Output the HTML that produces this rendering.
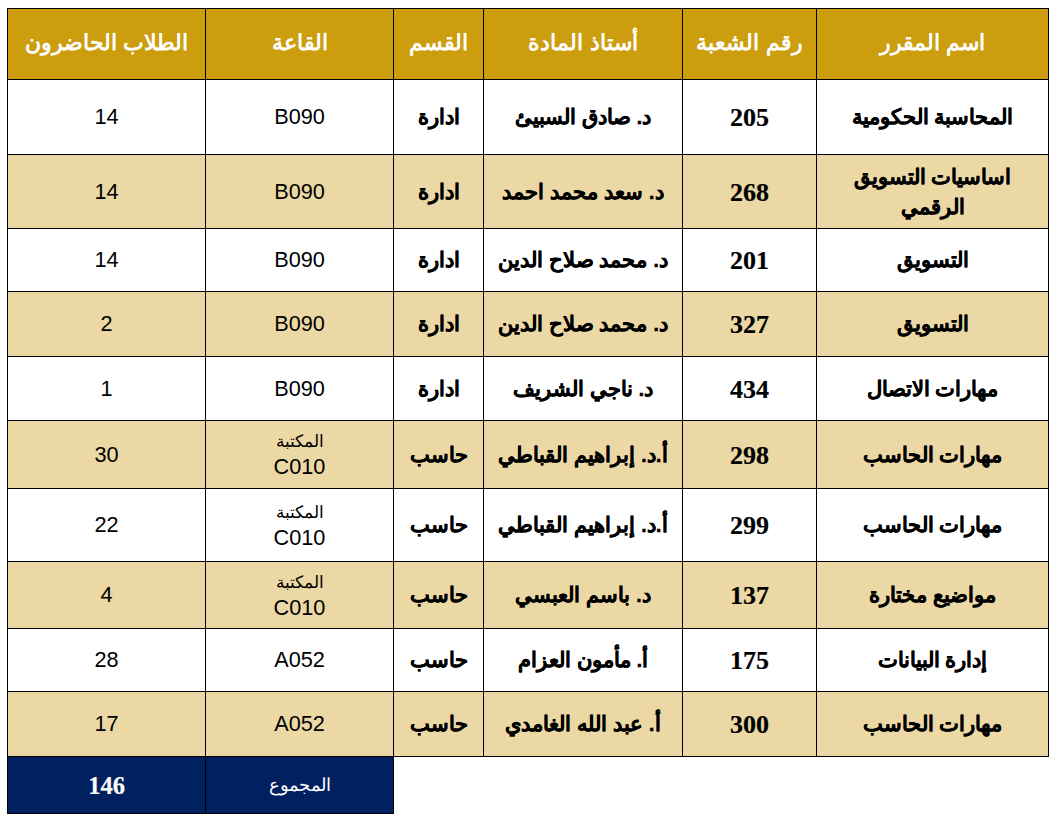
<!DOCTYPE html>
<html lang="ar"><head><meta charset="utf-8">
<style>
html,body{margin:0;padding:0;background:#fff;width:1057px;height:823px;overflow:hidden;position:relative}
.r{position:absolute}
.c{position:absolute;display:flex;align-items:center;justify-content:center;text-align:center;font-family:"Liberation Sans",sans-serif;color:#000;direction:rtl}
.hd{color:#fff;font-weight:bold;font-size:22px;padding-bottom:3px;box-sizing:border-box}
.ar{font-weight:bold;font-size:21px;line-height:30px;-webkit-text-stroke:0.3px #000}
.num{font-size:21.7px}
.room{font-size:21.7px}
.room2{font-size:21.7px;line-height:25px;flex-direction:column}
.room2 span{font-size:17px;display:block;line-height:24px}
.sec{font-family:"Liberation Serif",serif;font-weight:bold;font-size:26px;padding-top:2px;box-sizing:border-box;-webkit-text-stroke:0.2px currentColor}
.tot{color:#fff;font-size:24.5px}
.totl{color:#fff;font-size:18px}
</style></head><body>
<div class="r" style="left:7px;top:8px;width:1042px;height:71px;background:#CC9E0E"></div>
<div class="r" style="left:7px;top:79px;width:1042px;height:75px;background:#FFFFFF"></div>
<div class="r" style="left:7px;top:154px;width:1042px;height:74px;background:#EBD8A4"></div>
<div class="r" style="left:7px;top:228px;width:1042px;height:63px;background:#FFFFFF"></div>
<div class="r" style="left:7px;top:291px;width:1042px;height:65px;background:#EBD8A4"></div>
<div class="r" style="left:7px;top:356px;width:1042px;height:64px;background:#FFFFFF"></div>
<div class="r" style="left:7px;top:420px;width:1042px;height:68px;background:#EBD8A4"></div>
<div class="r" style="left:7px;top:488px;width:1042px;height:73px;background:#FFFFFF"></div>
<div class="r" style="left:7px;top:561px;width:1042px;height:67px;background:#EBD8A4"></div>
<div class="r" style="left:7px;top:628px;width:1042px;height:63px;background:#FFFFFF"></div>
<div class="r" style="left:7px;top:691px;width:1042px;height:65px;background:#EBD8A4"></div>
<div class="r" style="left:7px;top:756px;width:387px;height:57px;background:#002060"></div>
<div class="r" style="left:7px;top:8px;width:1042px;height:1px;background:#000"></div>
<div class="r" style="left:7px;top:79px;width:1042px;height:1px;background:#000"></div>
<div class="r" style="left:7px;top:154px;width:1042px;height:1px;background:#000"></div>
<div class="r" style="left:7px;top:228px;width:1042px;height:1px;background:#000"></div>
<div class="r" style="left:7px;top:291px;width:1042px;height:1px;background:#000"></div>
<div class="r" style="left:7px;top:356px;width:1042px;height:1px;background:#000"></div>
<div class="r" style="left:7px;top:420px;width:1042px;height:1px;background:#000"></div>
<div class="r" style="left:7px;top:488px;width:1042px;height:1px;background:#000"></div>
<div class="r" style="left:7px;top:561px;width:1042px;height:1px;background:#000"></div>
<div class="r" style="left:7px;top:628px;width:1042px;height:1px;background:#000"></div>
<div class="r" style="left:7px;top:691px;width:1042px;height:1px;background:#000"></div>
<div class="r" style="left:7px;top:756px;width:1042px;height:1px;background:#000"></div>
<div class="r" style="left:7px;top:813px;width:387px;height:1px;background:#000"></div>
<div class="r" style="left:7px;top:8px;width:1px;height:806px;background:#000"></div>
<div class="r" style="left:205px;top:8px;width:1px;height:806px;background:#000"></div>
<div class="r" style="left:393px;top:8px;width:1px;height:806px;background:#000"></div>
<div class="r" style="left:483px;top:8px;width:1px;height:749px;background:#000"></div>
<div class="r" style="left:682px;top:8px;width:1px;height:749px;background:#000"></div>
<div class="r" style="left:816px;top:8px;width:1px;height:749px;background:#000"></div>
<div class="r" style="left:1048px;top:8px;width:1px;height:749px;background:#000"></div>
<div class="c hd" style="left:8px;top:9px;width:197px;height:70px">الطلاب الحاضرون</div>
<div class="c hd" style="left:206px;top:9px;width:187px;height:70px">القاعة</div>
<div class="c hd" style="left:394px;top:9px;width:89px;height:70px">القسم</div>
<div class="c hd" style="left:484px;top:9px;width:198px;height:70px">أستاذ المادة</div>
<div class="c hd" style="left:683px;top:9px;width:133px;height:70px">رقم الشعبة</div>
<div class="c hd" style="left:817px;top:9px;width:231px;height:70px">اسم المقرر</div>
<div class="c num" style="left:8px;top:80px;width:197px;height:74px">14</div>
<div class="c room" style="left:206px;top:80px;width:187px;height:74px">B090</div>
<div class="c ar" style="left:394px;top:80px;width:89px;height:74px">ادارة</div>
<div class="c ar" style="left:484px;top:80px;width:198px;height:74px">د. صادق السبيئ</div>
<div class="c sec" style="left:683px;top:80px;width:133px;height:74px">205</div>
<div class="c ar" style="left:817px;top:80px;width:231px;height:74px">المحاسبة الحكومية</div>
<div class="c num" style="left:8px;top:155px;width:197px;height:73px">14</div>
<div class="c room" style="left:206px;top:155px;width:187px;height:73px">B090</div>
<div class="c ar" style="left:394px;top:155px;width:89px;height:73px">ادارة</div>
<div class="c ar" style="left:484px;top:155px;width:198px;height:73px">د. سعد محمد احمد</div>
<div class="c sec" style="left:683px;top:155px;width:133px;height:73px">268</div>
<div class="c ar" style="left:817px;top:155px;width:231px;height:73px">اساسيات التسويق<br>الرقمي</div>
<div class="c num" style="left:8px;top:229px;width:197px;height:62px">14</div>
<div class="c room" style="left:206px;top:229px;width:187px;height:62px">B090</div>
<div class="c ar" style="left:394px;top:229px;width:89px;height:62px">ادارة</div>
<div class="c ar" style="left:484px;top:229px;width:198px;height:62px">د. محمد صلاح الدين</div>
<div class="c sec" style="left:683px;top:229px;width:133px;height:62px">201</div>
<div class="c ar" style="left:817px;top:229px;width:231px;height:62px">التسويق</div>
<div class="c num" style="left:8px;top:292px;width:197px;height:64px">2</div>
<div class="c room" style="left:206px;top:292px;width:187px;height:64px">B090</div>
<div class="c ar" style="left:394px;top:292px;width:89px;height:64px">ادارة</div>
<div class="c ar" style="left:484px;top:292px;width:198px;height:64px">د. محمد صلاح الدين</div>
<div class="c sec" style="left:683px;top:292px;width:133px;height:64px">327</div>
<div class="c ar" style="left:817px;top:292px;width:231px;height:64px">التسويق</div>
<div class="c num" style="left:8px;top:357px;width:197px;height:63px">1</div>
<div class="c room" style="left:206px;top:357px;width:187px;height:63px">B090</div>
<div class="c ar" style="left:394px;top:357px;width:89px;height:63px">ادارة</div>
<div class="c ar" style="left:484px;top:357px;width:198px;height:63px">د. ناجي الشريف</div>
<div class="c sec" style="left:683px;top:357px;width:133px;height:63px">434</div>
<div class="c ar" style="left:817px;top:357px;width:231px;height:63px">مهارات الاتصال</div>
<div class="c num" style="left:8px;top:421px;width:197px;height:67px">30</div>
<div class="c room2" style="left:206px;top:421px;width:187px;height:67px"><span>المكتبة</span>C010</div>
<div class="c ar" style="left:394px;top:421px;width:89px;height:67px">حاسب</div>
<div class="c ar" style="left:484px;top:421px;width:198px;height:67px">أ.د. إبراهيم القباطي</div>
<div class="c sec" style="left:683px;top:421px;width:133px;height:67px">298</div>
<div class="c ar" style="left:817px;top:421px;width:231px;height:67px">مهارات الحاسب</div>
<div class="c num" style="left:8px;top:489px;width:197px;height:72px">22</div>
<div class="c room2" style="left:206px;top:489px;width:187px;height:72px"><span>المكتبة</span>C010</div>
<div class="c ar" style="left:394px;top:489px;width:89px;height:72px">حاسب</div>
<div class="c ar" style="left:484px;top:489px;width:198px;height:72px">أ.د. إبراهيم القباطي</div>
<div class="c sec" style="left:683px;top:489px;width:133px;height:72px">299</div>
<div class="c ar" style="left:817px;top:489px;width:231px;height:72px">مهارات الحاسب</div>
<div class="c num" style="left:8px;top:562px;width:197px;height:66px">4</div>
<div class="c room2" style="left:206px;top:562px;width:187px;height:66px"><span>المكتبة</span>C010</div>
<div class="c ar" style="left:394px;top:562px;width:89px;height:66px">حاسب</div>
<div class="c ar" style="left:484px;top:562px;width:198px;height:66px">د. باسم العبسي</div>
<div class="c sec" style="left:683px;top:562px;width:133px;height:66px">137</div>
<div class="c ar" style="left:817px;top:562px;width:231px;height:66px">مواضيع مختارة</div>
<div class="c num" style="left:8px;top:629px;width:197px;height:62px">28</div>
<div class="c room" style="left:206px;top:629px;width:187px;height:62px">A052</div>
<div class="c ar" style="left:394px;top:629px;width:89px;height:62px">حاسب</div>
<div class="c ar" style="left:484px;top:629px;width:198px;height:62px">أ. مأمون العزام</div>
<div class="c sec" style="left:683px;top:629px;width:133px;height:62px">175</div>
<div class="c ar" style="left:817px;top:629px;width:231px;height:62px">إدارة البيانات</div>
<div class="c num" style="left:8px;top:692px;width:197px;height:64px">17</div>
<div class="c room" style="left:206px;top:692px;width:187px;height:64px">A052</div>
<div class="c ar" style="left:394px;top:692px;width:89px;height:64px">حاسب</div>
<div class="c ar" style="left:484px;top:692px;width:198px;height:64px">أ. عبد الله الغامدي</div>
<div class="c sec" style="left:683px;top:692px;width:133px;height:64px">300</div>
<div class="c ar" style="left:817px;top:692px;width:231px;height:64px">مهارات الحاسب</div>
<div class="c sec tot" style="left:8px;top:757px;width:197px;height:56px">146</div>
<div class="c totl" style="left:206px;top:757px;width:187px;height:56px">المجموع</div>
</body></html>
